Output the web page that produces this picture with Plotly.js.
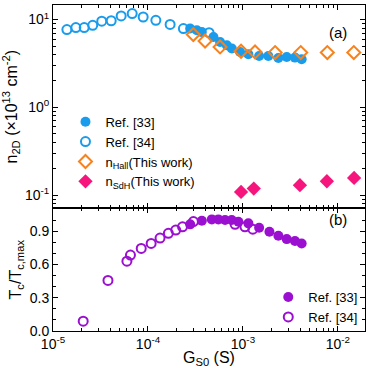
<!DOCTYPE html>
<html>
<head>
<meta charset="utf-8">
<script src="https://cdn.plot.ly/plotly-3.0.1.min.js"></script>
<style>
  html, body { margin: 0; padding: 0; background: #fff; }
  #plot { width: 374px; height: 368px; }
</style>
</head>
<body>
<div id="plot"></div>
<script>
// panel (a): carrier density vs G_S0
let ref33G = [2.78e-4, 3.27e-4, 3.69e-4, 4.89e-4, 5.74e-4, 6.76e-4, 7.63e-4, 9.32e-4, 1.14e-3, 1.48e-3, 1.85e-3, 2.36e-3, 2.89e-3, 3.53e-3, 4.15e-3]
let ref33N = [7.9, 7.55, 7.2, 6.34, 5.56, 5.10, 4.68, 4.28, 4.03, 3.85, 3.85, 3.65, 3.75, 3.69, 3.53]

let ref34G = [1.40e-5, 1.74e-5, 2.13e-5, 2.62e-5, 3.26e-5, 4.10e-5, 5.22e-5, 6.82e-5, 8.9e-5, 1.21e-4, 1.71e-4, 2.36e-4, 4.4e-4]
let ref34N = [7.7, 8.1, 8.1, 8.6, 9.6, 9.7, 11.0, 11.7, 10.7, 9.8, 8.8, 7.9, 7.1]

let hallG = [3.0e-4, 3.99e-4, 5.74e-4, 9.55e-4, 1.34e-3, 2.18e-3, 4.06e-3, 7.73e-3, 1.47e-2]
let hallN = [6.75, 5.70, 4.88, 4.36, 4.28, 4.21, 4.21, 4.21, 4.21]

let sdhG = [9.55e-4, 1.30e-3, 3.98e-3, 7.65e-3, 1.48e-2]
let sdhN = [0.109, 0.119, 0.130, 0.144, 0.157]

// panel (b): normalised Tc vs G_S0
let tc33G = [2.78e-4, 3.69e-4, 4.70e-4, 5.51e-4, 6.48e-4, 7.62e-4, 8.95e-4, 1.14e-3, 1.48e-3, 1.90e-3, 2.36e-3, 2.89e-3, 3.53e-3, 4.15e-3]
let tc33T = [0.963, 0.995, 1.008, 1.008, 1.002, 1.002, 0.986, 0.972, 0.932, 0.896, 0.860, 0.830, 0.812, 0.791]

let tc34G = [2.08e-5, 3.79e-5, 6.0e-5, 6.54e-5, 8.49e-5, 1.08e-4, 1.34e-4, 1.64e-4, 1.96e-4, 2.31e-4, 3.01e-4, 8.26e-4, 1.05e-3, 1.27e-3]
let tc34T = [0.089, 0.457, 0.631, 0.686, 0.746, 0.791, 0.839, 0.882, 0.911, 0.941, 0.988, 0.963, 0.941, 0.920]

let xTickVals = [1e-5, 1e-4, 1e-3, 1e-2]
let xTickText = ['10<sup>-5</sup>', '10<sup>-4</sup>', '10<sup>-3</sup>', '10<sup>-2</sup>']
let nTickVals = [0.1, 1, 10]
let nTickText = ['10<sup>-1</sup>', '10<sup>0</sup>', '10<sup>1</sup>']

function minorLog(lo, hi) {
    let out = []
    for (let e = lo; e <= hi; e++) {
        for (let m = 2; m <= 9; m++) out.push(m * Math.pow(10, e))
    }
    return out
}

let blue = '#1a9cec'
let orange = '#f7821e'
let pink = '#f5157d'
let purple = '#9b10d0'

let trace1 = {
    x: ref33G, y: ref33N, xaxis: 'x2', yaxis: 'y2',
    mode: 'markers', type: 'scatter', name: 'Ref. [33]',
    marker: {symbol: 'circle', size: 10, color: blue}
}

let trace2 = {
    x: ref34G, y: ref34N, xaxis: 'x2', yaxis: 'y2',
    mode: 'markers', type: 'scatter', name: 'Ref. [34]',
    marker: {symbol: 'circle-open', size: 9, color: blue, line: {width: 2}}
}

let trace3 = {
    x: hallG, y: hallN, xaxis: 'x2', yaxis: 'y2',
    mode: 'markers', type: 'scatter', name: 'n<sub>Hall</sub>(This work)',
    marker: {symbol: 'diamond-open', size: 10, color: orange, line: {width: 2}}
}

let trace4 = {
    x: sdhG, y: sdhN, xaxis: 'x2', yaxis: 'y2',
    mode: 'markers', type: 'scatter', name: 'n<sub>SdH</sub>(This work)',
    marker: {symbol: 'diamond', size: 11, color: pink}
}

let trace5 = {
    x: tc33G, y: tc33T, xaxis: 'x', yaxis: 'y', legend: 'legend2',
    mode: 'markers', type: 'scatter', name: 'Ref. [33]',
    marker: {symbol: 'circle', size: 10, color: purple}
}

let trace6 = {
    x: tc34G, y: tc34T, xaxis: 'x', yaxis: 'y', legend: 'legend2',
    mode: 'markers', type: 'scatter', name: 'Ref. [34]',
    marker: {symbol: 'circle-open', size: 9, color: purple, line: {width: 2}}
}

let font = {family: 'Liberation Sans, Arial, sans-serif', size: 13, color: '#000'}

let axisCommon = {
    showline: true, linecolor: '#000', linewidth: 1, mirror: 'allticks',
    ticks: 'inside', ticklen: 5, tickcolor: '#000', showgrid: false, zeroline: false,
    tickfont: {size: 14}
}

let layout = {
    width: 374, height: 368,
    margin: {l: 53, r: 9, t: 5, b: 37},
    font: font,
    paper_bgcolor: '#fff', plot_bgcolor: '#fff',
    xaxis: Object.assign({}, axisCommon, {
        type: 'log', range: [-5, -1.715], anchor: 'y',
        tickmode: 'array', tickvals: xTickVals, ticktext: xTickText,
        minor: {tickmode: 'array', tickvals: minorLog(-5, -2), ticks: 'inside', ticklen: 3, tickcolor: '#000'},
        title: {text: 'G<sub>S0</sub> (S)', font: {size: 16}, standoff: 2}
    }),
    xaxis2: Object.assign({}, axisCommon, {
        type: 'log', range: [-5, -1.715], anchor: 'y2', matches: 'x', showticklabels: false,
        tickmode: 'array', tickvals: xTickVals,
        minor: {tickmode: 'array', tickvals: minorLog(-5, -2), ticks: 'inside', ticklen: 3, tickcolor: '#000'}
    }),
    yaxis: Object.assign({}, axisCommon, {
        domain: [0, 0.376], range: [0, 1.107], anchor: 'x',
        tickmode: 'linear', tick0: 0, dtick: 0.3, tickformat: '.1f',
        minor: {dtick: 0.1, ticks: 'inside', ticklen: 3, tickcolor: '#000'},
        title: {text: 'T<sub>c</sub>/T<sub>c,max</sub>', font: {size: 16}, standoff: 4}
    }),
    yaxis2: Object.assign({}, axisCommon, {
        domain: [0.376, 1], type: 'log', range: [-1.151, 1.166], anchor: 'x2',
        tickmode: 'array', tickvals: nTickVals, ticktext: nTickText,
        minor: {tickmode: 'array', tickvals: minorLog(-2, 1), ticks: 'inside', ticklen: 3, tickcolor: '#000'},
        title: {text: 'n<sub>2D</sub> (\u00d710<sup>13</sup> cm<sup>-2</sup>)', font: {size: 16}, standoff: 4}
    }),
    legend: {
        x: 0.04, y: 0.688, xanchor: 'left', yanchor: 'top',
        bgcolor: 'rgba(0,0,0,0)', font: {size: 13}, itemwidth: 30, tracegroupgap: 0
    },
    legend2: {
        x: 0.69, y: 0.15, xanchor: 'left', yanchor: 'top',
        bgcolor: 'rgba(0,0,0,0)', font: {size: 13}, itemwidth: 30
    },
    annotations: [
        {text: '(a)', xref: 'paper', yref: 'paper', x: 0.949, y: 0.948, showarrow: false, font: {size: 15}},
        {text: '(b)', xref: 'paper', yref: 'paper', x: 0.949, y: 0.31, showarrow: false, font: {size: 15}}
    ]
}

Plotly.newPlot('plot', [trace1, trace2, trace3, trace4, trace5, trace6], layout, {displayModeBar: false, staticPlot: true})
</script>
</body>
</html>
